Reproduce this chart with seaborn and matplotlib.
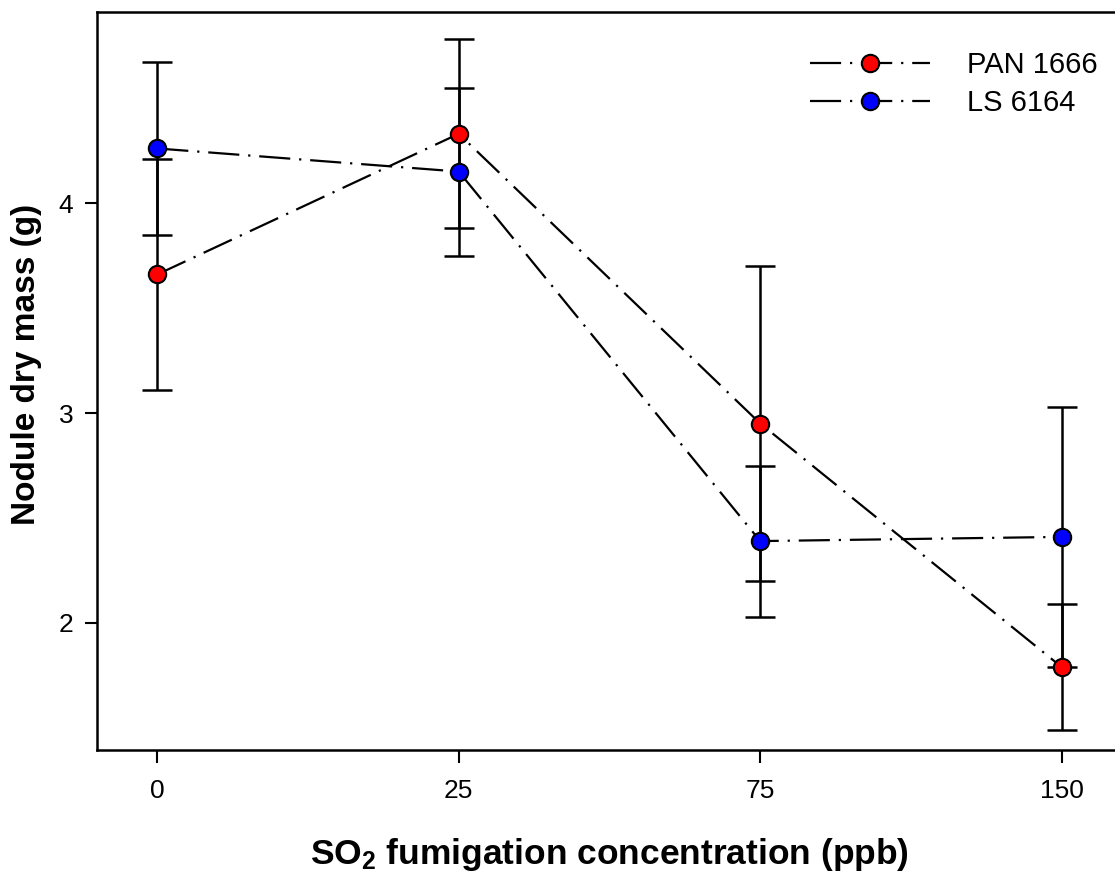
import numpy as np
import pandas as pd
import seaborn as sns
import matplotlib
matplotlib.use("Agg")
import matplotlib.pyplot as plt

categories = ["0", "25", "75", "150"]
pan_mean = [3.66, 4.33, 2.95, 1.79]
pan_err = [0.55, 0.45, 0.75, 0.30]
ls_mean = [4.26, 4.15, 2.39, 2.41]
ls_err = [0.41, 0.40, 0.36, 0.62]
series_names = ["PAN 1666", "LS 6164"]
series_colors = ["#ff0000", "#0000ff"]

sns.set_theme(style="white")
plt.rcParams['font.family'] = ['Liberation Sans', 'DejaVu Sans']
plt.rcParams['text.color'] = 'black'
plt.rcParams['axes.labelcolor'] = 'black'
plt.rcParams['xtick.color'] = 'black'
plt.rcParams['ytick.color'] = 'black'
plt.rcParams['mathtext.fontset'] = 'custom'
plt.rcParams['mathtext.rm'] = 'Liberation Sans'
plt.rcParams['mathtext.bf'] = 'Liberation Sans:bold'

pos = np.arange(len(categories))
df = pd.DataFrame({
    "pos": np.concatenate([pos, pos]),
    "value": pan_mean + ls_mean,
    "err": pan_err + ls_err,
    "series": [series_names[0]] * 4 + [series_names[1]] * 4,
})

fig = plt.figure(figsize=(11.15, 8.74), dpi=100)
ax = fig.add_axes([97 / 1115, 1 - 750 / 874, (1122 - 97) / 1115, (750 - 12) / 874])

dash = (14, 4, 1, 4)
lines = []
for name, color in zip(series_names, series_colors):
    sub = df[df.series == name]
    before = set(ax.get_lines())
    sns.lineplot(data=sub, x="pos", y="value", ax=ax, color="black", linewidth=1.6,
                 marker="o", markersize=12.5, markerfacecolor=color,
                 markeredgecolor="black", markeredgewidth=1.5, legend=False,
                 errorbar=None)
    new = [l for l in ax.get_lines() if l not in before]
    for l in new:
        l.set_dashes(dash)
        l.set_zorder(3)
        l.set_label(name)
    lines.extend(new)

for name in series_names:
    sub = df[df.series == name]
    ax.errorbar(sub.pos, sub.value, yerr=sub.err, fmt="none", ecolor="black",
                elinewidth=1.8, capsize=11, capthick=1.8, zorder=2)

ax.set_xlim(-0.2, 3.2)
ax.set_ylim(1.395, 4.91)
ax.set_xticks(pos)
ax.set_xticklabels(categories)
ax.set_yticks([2, 3, 4])
ax.tick_params(axis="both", direction="out", length=9, width=1.5, color="black",
               labelsize=19, bottom=True, left=True)
ax.tick_params(axis="x", pad=12)
ax.tick_params(axis="y", pad=8)
for s in ax.spines.values():
    s.set_color("black")
    s.set_linewidth(1.8)

ax.set_xlabel(r"$\mathbf{SO_2}$ fumigation concentration (ppb)", fontsize=25.5,
              fontweight="bold")
ax.xaxis.set_label_coords(0.5, -0.117)
ax.set_ylabel("Nodule dry mass (g)", fontsize=24, fontweight="bold")
ax.yaxis.set_label_coords(-0.054, 0.523)

leg = ax.legend(handles=lines, labels=series_names, loc="upper left",
                bbox_to_anchor=(0.670, 0.983), frameon=False, fontsize=21,
                handlelength=4.1, handletextpad=1.27, labelspacing=0.35)

fig.savefig("out.png", dpi=100)
